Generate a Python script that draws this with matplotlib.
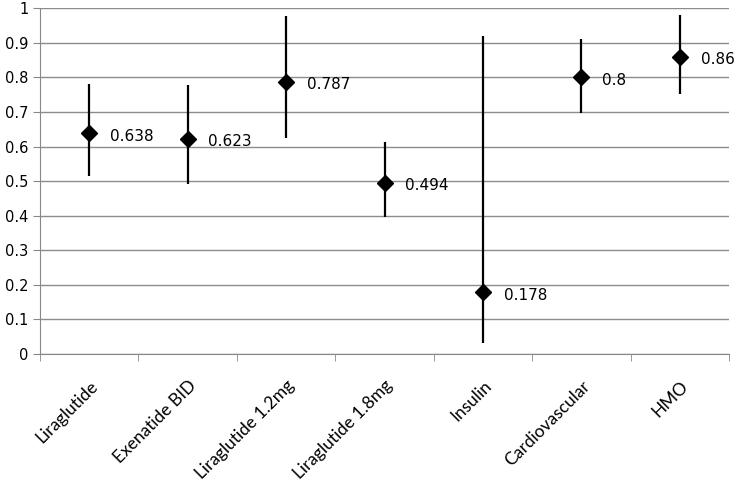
import numpy as np
import matplotlib
matplotlib.use("Agg")
import matplotlib.pyplot as plt

categories = ["Liraglutide", "Exenatide BID", "Liraglutide 1.2mg", "Liraglutide 1.8mg",
              "Insulin", "Cardiovascular", "HMO"]
values = [0.638, 0.623, 0.787, 0.494, 0.178, 0.8, 0.86]
upper = [0.782, 0.778, 0.977, 0.614, 0.919, 0.911, 0.979]
lower = [0.514, 0.493, 0.626, 0.395, 0.033, 0.696, 0.751]
labels = ["0.638", "0.623", "0.787", "0.494", "0.178", "0.8", "0.86"]

x = np.arange(len(categories))
vals = np.array(values)
yerr = [vals - np.array(lower), np.array(upper) - vals]

fig = plt.figure(figsize=(7.37, 4.83), dpi=100)
ax = fig.add_axes([0.0543, 0.267, 0.9349, 0.716])

ax.errorbar(x, vals, yerr=yerr, fmt="D", color="black", ms=8,
            elinewidth=1.6, capsize=0, zorder=3)

for xi, v, lab in zip(x, vals, labels):
    ax.annotate(lab, (xi, v), xytext=(15, -2), textcoords="offset points",
                ha="left", va="center", fontsize=11, family="DejaVu Sans")

ax.set_xlim(-0.5, len(categories) - 0.5)
ax.set_ylim(0, 1)
ax.set_yticks(np.arange(0, 1.01, 0.1))
ax.set_yticklabels(["0", "0.1", "0.2", "0.3", "0.4", "0.5", "0.6", "0.7", "0.8", "0.9", "1"],
                   fontsize=10.5, family="DejaVu Sans")
ax.set_xticks(x)
ax.set_xticklabels(categories, rotation=45, ha="right", rotation_mode="anchor",
                   fontsize=12.5, family="Lato")
ax.set_xticks(np.arange(-0.5, len(categories), 1), minor=True)
ax.tick_params(axis="x", which="major", length=0, pad=17)
ax.tick_params(axis="x", which="minor", length=5, color="#888888")
ax.tick_params(axis="y", length=5, color="#888888")

ax.yaxis.grid(True, color="#8c8c8c", linewidth=1)
ax.set_axisbelow(True)
for s in ["top", "right"]:
    ax.spines[s].set_visible(False)
for s in ["left", "bottom"]:
    ax.spines[s].set_color("#888888")

fig.savefig("out.png", dpi=100)
